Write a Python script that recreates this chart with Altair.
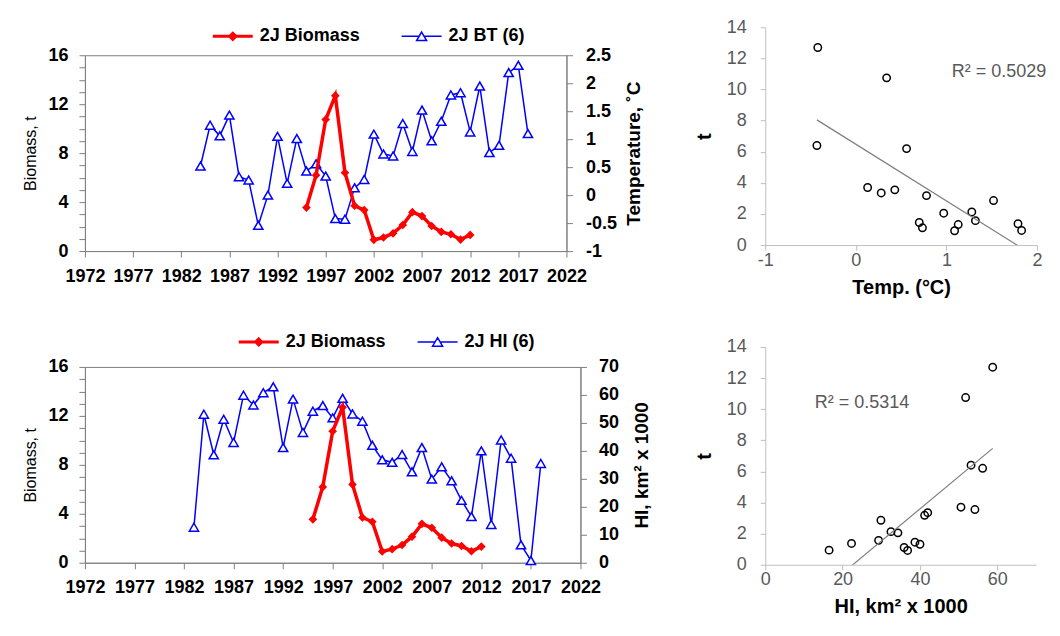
import altair as alt
import pandas as pd

FONT = "Liberation Sans"
AX = "#808080"
LIGHT = "#BFBFBF"
RED = "#FF0000"
BLUE = "#0000FF"

# ---- data ----
years_bio = list(range(1995, 2013))
biomass = [3.55, 6.2, 10.75, 12.7, 6.4, 3.7, 3.35, 0.92, 1.11, 1.45, 2.13, 3.18,
           2.86, 2.05, 1.57, 1.37, 0.94, 1.32]

years_bt = list(range(1984, 2019))
bt = [0.52, 1.25, 1.06, 1.43, 0.33, 0.27, -0.54, 0.0, 1.05, 0.21, 1.01, 0.43,
      0.56, 0.34, -0.42, -0.43, 0.13, 0.28, 1.09, 0.735, 0.70, 1.28, 0.78, 1.52,
      0.97, 1.32, 1.79, 1.83, 1.13, 1.95, 0.76, 0.89, 2.19, 2.32, 1.10]

years_hi = list(range(1983, 2019))
hi = [12.7, 53.1, 38.6, 51.3, 43.0, 59.9, 56.4, 60.8, 62.9, 41.2, 58.5, 46.6,
      54.2, 56.2, 51.8, 58.8, 53.2, 50.6, 42.0, 36.8, 35.9, 38.7, 32.5, 41.2,
      29.9, 34.3, 29.3, 22.3, 16.5, 40.0, 13.7, 43.9, 37.4, 6.4, 0.8, 35.5]

year_ticks = list(range(1972, 2023, 5))
biomass_ticks = list(range(0, 17))
temp_ticks = [-1, -0.5, 0, 0.5, 1, 1.5, 2, 2.5]
hi_ticks = list(range(0, 71, 10))
t_ticks = list(range(0, 15, 2))
temp_x_ticks = [-1, 0, 1, 2]
hi_x_ticks = [0, 20, 40, 60]

legend_top = ["2J Biomass", "2J BT (6)"]
legend_bottom = ["2J Biomass", "2J HI (6)"]

r2_temp_label = ["R² = 0.5029"]
r2_temp_x = [1.58]
r2_temp_y = [11.1]
r2_hi_label = ["R² = 0.5314"]
r2_hi_x = [25.0]
r2_hi_y = [10.4]

bio_df = pd.DataFrame({"year": years_bio, "biomass": biomass})
bt_df = pd.DataFrame({"year": years_bt, "temp": bt})
hi_df = pd.DataFrame({"year": years_hi, "hi": hi})
sc_df = bio_df.merge(bt_df, on="year").merge(hi_df, on="year")

# legend symbol paths (line with marker)
DIAMOND_PATH = "M-4,0H4M0,-0.6L0.6,0L0,0.6L-0.6,0Z"
TRI_PATH = "M-4,0H-0.5M0.5,0H4M0,-0.85L1,0.85L-1,0.85Z"


def legend_chart(names, width, height, lx, ly, colpad):
    ldf = pd.DataFrame({"series": names})
    leg = alt.Legend(orient="none", legendX=lx, legendY=ly, direction="horizontal",
                     labelFont=FONT, labelFontSize=18, labelFontWeight="bold",
                     labelColor="black", symbolSize=100, labelOffset=18,
                     columnPadding=colpad, padding=0)
    return alt.Chart(ldf).transform_filter("false").mark_point(opacity=1).encode(
        shape=alt.Shape("series:N", title=None, legend=leg,
                        scale=alt.Scale(domain=names, range=[DIAMOND_PATH, TRI_PATH])),
        fill=alt.Fill("series:N", title=None, legend=leg,
                      scale=alt.Scale(domain=names, range=[RED, "#FFFFFF"])),
        stroke=alt.Stroke("series:N", title=None, legend=leg,
                          scale=alt.Scale(domain=names, range=[RED, BLUE])),
        strokeWidth=alt.StrokeWidth("series:N", title=None, legend=leg,
                                    scale=alt.Scale(domain=names, range=[3, 1.5])),
    ).properties(width=width, height=height)


def line_panel(rdf, rfield, rdomain, rvalues, rtitle, width, rlabpad, rtitlepad):
    x_axis = alt.Axis(values=year_ticks, labelExpr="datum.value + ''", title=None,
                      labelFont=FONT, labelFontSize=18, labelFontWeight="bold",
                      labelColor="black", domainColor=AX, tickColor=AX, tickSize=6,
                      labelPadding=10, grid=False, labelFlush=False, labelOverlap=False)
    x = alt.X("year:Q", scale=alt.Scale(domain=[1972, 2022], nice=False, zero=False),
              axis=x_axis)
    left_axis = alt.Axis(orient="left", values=biomass_ticks,
                         labelExpr="datum.value % 4 == 0 ? datum.value + '' : ''",
                         title="Biomass, t", titleFont=FONT, titleFontSize=16,
                         titleFontWeight="normal", titleColor="black", titlePadding=9,
                         labelFont=FONT, labelFontSize=18, labelFontWeight="bold",
                         labelColor="black", domainColor=AX, tickColor=AX, tickSize=6,
                         labelPadding=11, grid=False, labelOverlap=False)
    right_axis = alt.Axis(orient="right", values=rvalues, labelExpr="datum.value + ''",
                          title=rtitle, titleFont=FONT, titleFontSize=19,
                          titleFontWeight="bold", titleColor="black",
                          titlePadding=rtitlepad, titleAngle=270, titleBaseline="top",
                          labelFont=FONT, labelFontSize=18, labelFontWeight="bold",
                          labelColor="black", domainColor=AX, tickColor=AX, tickSize=6,
                          labelPadding=rlabpad, grid=False, labelOverlap=False)
    red_base = alt.Chart(bio_df).encode(
        x=x, y=alt.Y("biomass:Q", scale=alt.Scale(domain=[0, 16], nice=False),
                     axis=left_axis))
    red = alt.layer(
        red_base.mark_line(color=RED, strokeWidth=3.5),
        red_base.mark_point(shape="diamond", filled=True, color=RED, size=75, opacity=1),
    )
    blue_base = alt.Chart(rdf).encode(
        x=x, y=alt.Y(f"{rfield}:Q",
                     scale=alt.Scale(domain=rdomain, nice=False, zero=False),
                     axis=right_axis))
    blue = alt.layer(
        blue_base.mark_line(color=BLUE, strokeWidth=1.5),
        blue_base.mark_point(shape="triangle-up", filled=True, fill="white",
                             stroke=BLUE, strokeWidth=1.5, size=85, opacity=1),
    )
    return alt.layer(blue, red).resolve_scale(y="independent").properties(
        width=width, height=196, view=alt.ViewBackground(stroke=AX, strokeWidth=1))


def scatter_panel(xfield, xdomain, xvalues, xtitle, labels, lx, ly, width):
    y_axis = alt.Axis(values=t_ticks, title="t", titleFont=FONT, titleFontSize=20,
                      titleFontWeight="bold", titleColor="black", titlePadding=12,
                      labelFont=FONT, labelFontSize=18, labelColor="#595959",
                      domainColor=LIGHT, tickColor=LIGHT, tickSize=5, labelPadding=14,
                      grid=False)
    x_axis = alt.Axis(values=xvalues, labelExpr="datum.value + ''", title=xtitle,
                      titleFont=FONT, titleFontSize=20, titleFontWeight="bold",
                      titleColor="black", titlePadding=8, labelFont=FONT,
                      labelFontSize=18, labelColor="#595959", domainColor=LIGHT,
                      tickColor=LIGHT, tickSize=5, labelPadding=1, grid=False,
                      labelFlush=False)
    x = alt.X(f"{xfield}:Q", scale=alt.Scale(domain=xdomain, nice=False, zero=False),
              axis=x_axis)
    y = alt.Y("biomass:Q", scale=alt.Scale(domain=[0, 14], nice=False), axis=y_axis)
    pts = alt.Chart(sc_df).mark_point(shape="circle", filled=False, color="black",
                                      size=55, strokeWidth=1.5, opacity=1).encode(x=x, y=y)
    reg = alt.Chart(sc_df).transform_regression(xfield, "biomass").mark_line(
        color="#7F7F7F", strokeWidth=1.2, clip=True).encode(x=x, y=y)
    tdf = pd.DataFrame({xfield: lx, "biomass": ly, "label": labels})
    txt = alt.Chart(tdf).mark_text(font=FONT, fontSize=18, color="#595959",
                                   align="center").encode(x=x, y=y, text="label:N")
    return alt.layer(pts, reg, txt).properties(width=width, height=218)


leg1 = legend_chart(legend_top, 482, 18, 139, 0, 38)
top_line = line_panel(bt_df, "temp", [-1, 2.5], temp_ticks, "Temperature, ˚C", 482, 13, 8)
leg2 = legend_chart(legend_bottom, 496, 71, 165, 47, 28)
bottom_line = line_panel(hi_df, "hi", [0, 70], hi_ticks, "HI, km² x 1000", 496, 12, 14)

sc1 = scatter_panel("temp", [-1, 2], temp_x_ticks, "Temp. (°C)",
                    r2_temp_label, r2_temp_x, r2_temp_y, 272)
sc2 = scatter_panel("hi", [0, 70], hi_x_ticks, "HI, km² x 1000",
                    r2_hi_label, r2_hi_x, r2_hi_y, 271)

left_col = alt.vconcat(leg1, top_line, leg2, bottom_line, spacing=0).resolve_scale(
    shape="independent", fill="independent", stroke="independent",
    strokeWidth="independent")
right_col = alt.vconcat(sc1, sc2, spacing=39)

chart = alt.hconcat(left_col, right_col, spacing=41).properties(
    padding={"left": 14, "top": 9, "right": 5, "bottom": 5}
).configure_view(stroke="transparent").configure_axis(grid=False)

chart.save("out.html", embed_options={"renderer": "svg", "actions": False})
